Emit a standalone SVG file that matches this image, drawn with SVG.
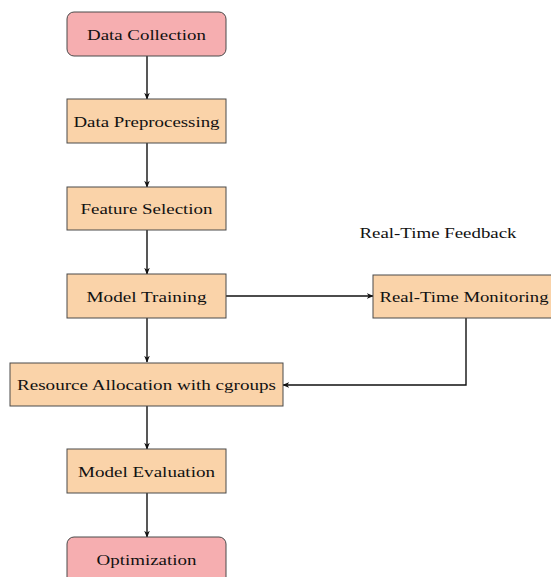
<svg xmlns="http://www.w3.org/2000/svg" width="551" height="577" viewBox="0 0 551 577">
<style>
.pink{fill:#F6AEB0;stroke:#4a4a4a;stroke-width:1}
.peach{fill:#FAD3A9;stroke:#4a4a4a;stroke-width:1}
text{font-family:"Liberation Serif","Times New Roman",serif;font-size:15.5px;fill:#111;text-anchor:middle}
.c{fill:none;stroke:#111;stroke-width:1.4}
</style>
<defs>
<marker id="ah" viewBox="0 0 10 10" refX="9" refY="5" markerWidth="7" markerHeight="7" orient="auto" markerUnits="userSpaceOnUse">
<path d="M0,1 L10,5 L0,9 L3,5 Z" fill="#111"/>
</marker>
</defs>
<rect width="551" height="577" fill="#fff"/>
<g id="connectors">
<line class="c" x1="147" y1="56" x2="147" y2="99" marker-end="url(#ah)"/>
<line class="c" x1="147" y1="143" x2="147" y2="187" marker-end="url(#ah)"/>
<line class="c" x1="147" y1="230" x2="147" y2="274" marker-end="url(#ah)"/>
<line class="c" x1="147" y1="318" x2="147" y2="362" marker-end="url(#ah)"/>
<line class="c" x1="147" y1="406" x2="147" y2="449" marker-end="url(#ah)"/>
<line class="c" x1="147" y1="493" x2="147" y2="537" marker-end="url(#ah)"/>
<line class="c" x1="226" y1="296" x2="373" y2="296" marker-end="url(#ah)"/>
<polyline class="c" points="466,318 466,385 283,385" marker-end="url(#ah)"/>
</g>
<g id="data-collection">
<rect class="pink" x="67" y="12" width="159" height="44" rx="7"/>
<text x="146.5" y="40" textLength="119" lengthAdjust="spacingAndGlyphs">Data Collection</text>
</g>
<g id="data-preprocessing">
<rect class="peach" x="67" y="99" width="159" height="44"/>
<text x="146.5" y="127" textLength="146" lengthAdjust="spacingAndGlyphs">Data Preprocessing</text>
</g>
<g id="feature-selection">
<rect class="peach" x="67" y="187" width="159" height="43"/>
<text x="146.5" y="214" textLength="132" lengthAdjust="spacingAndGlyphs">Feature Selection</text>
</g>
<g id="model-training">
<rect class="peach" x="67" y="274" width="159" height="44"/>
<text x="146.5" y="302" textLength="120" lengthAdjust="spacingAndGlyphs">Model Training</text>
</g>
<g id="real-time-monitoring">
<rect class="peach" x="373" y="275" width="185" height="43"/>
<text x="464" y="302" textLength="169" lengthAdjust="spacingAndGlyphs">Real-Time Monitoring</text>
</g>
<g id="feedback-label">
<text x="438" y="238" textLength="157" lengthAdjust="spacingAndGlyphs">Real-Time Feedback</text>
</g>
<g id="resource-allocation">
<rect class="peach" x="10" y="363" width="273" height="43"/>
<text x="146.5" y="390" textLength="259" lengthAdjust="spacingAndGlyphs">Resource Allocation with cgroups</text>
</g>
<g id="model-evaluation">
<rect class="peach" x="67" y="449" width="159" height="44"/>
<text x="146.5" y="477" textLength="137" lengthAdjust="spacingAndGlyphs">Model Evaluation</text>
</g>
<g id="optimization">
<rect class="pink" x="67" y="537" width="159" height="50" rx="7"/>
<text x="146.5" y="565" textLength="100" lengthAdjust="spacingAndGlyphs">Optimization</text>
</g>
</svg>
